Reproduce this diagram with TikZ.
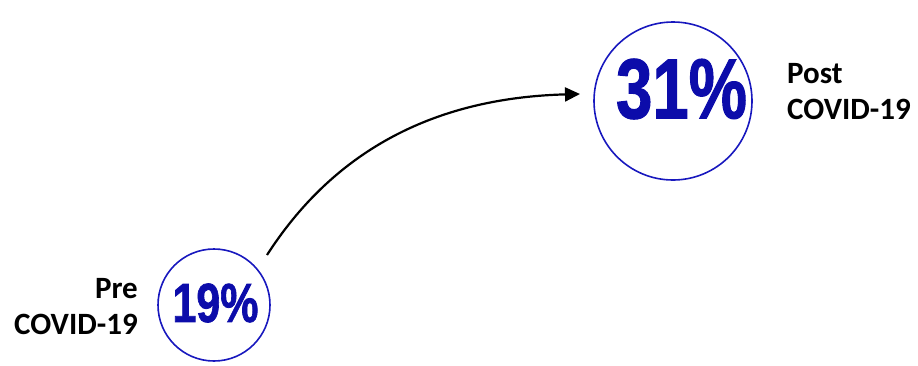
\documentclass[tikz,border=0pt]{standalone}
\usepackage{fontspec}
\setmainfont{Carlito}
\newfontfamily\pctfont{Liberation Sans}[BoldFeatures={FakeBold=1.5}]
\usetikzlibrary{arrows.meta}
\definecolor{pctblue}{RGB}{12,12,170}
\definecolor{ringblue}{RGB}{24,24,190}
\begin{document}
\begin{tikzpicture}[x=1pt,y=-1pt,
  ring/.style={draw=ringblue,line width=1.6pt,circle,inner sep=0pt},
  pct/.style={text=pctblue,inner sep=0pt},
  lbl/.style={inner sep=0pt,font=\fontsize{31}{36}\selectfont\bfseries},
  flow/.style={line width=2.2pt,-{Triangle[length=15pt,width=14pt]}}]
\useasboundingbox (0,0) rectangle (918,365);
\node[ring,minimum size=112pt] (c1) at (214,305) {};
\node[ring,minimum size=158pt] (c2) at (673,101) {};
\node[pct] (p1) at (215.5,303) {\scalebox{0.78}[1]{\pctfont\bfseries\fontsize{55}{55}\selectfont 19\%}};
\node[pct] (p2) at (681.5,89) {\scalebox{0.77}[1]{\pctfont\bfseries\fontsize{85}{85}\selectfont 31\%}};
\node[lbl,anchor=base east,align=right] (pre) at (138,334) {Pre\\COVID-19};
\node[lbl,anchor=base west,align=left] (post) at (787,119) {Post\\COVID-19};
\coordinate (s) at (267,255);
\coordinate (e) at (580,94);
\draw[flow] (s) .. controls (332,154) and (430,98) .. (e);
\end{tikzpicture}
\end{document}
